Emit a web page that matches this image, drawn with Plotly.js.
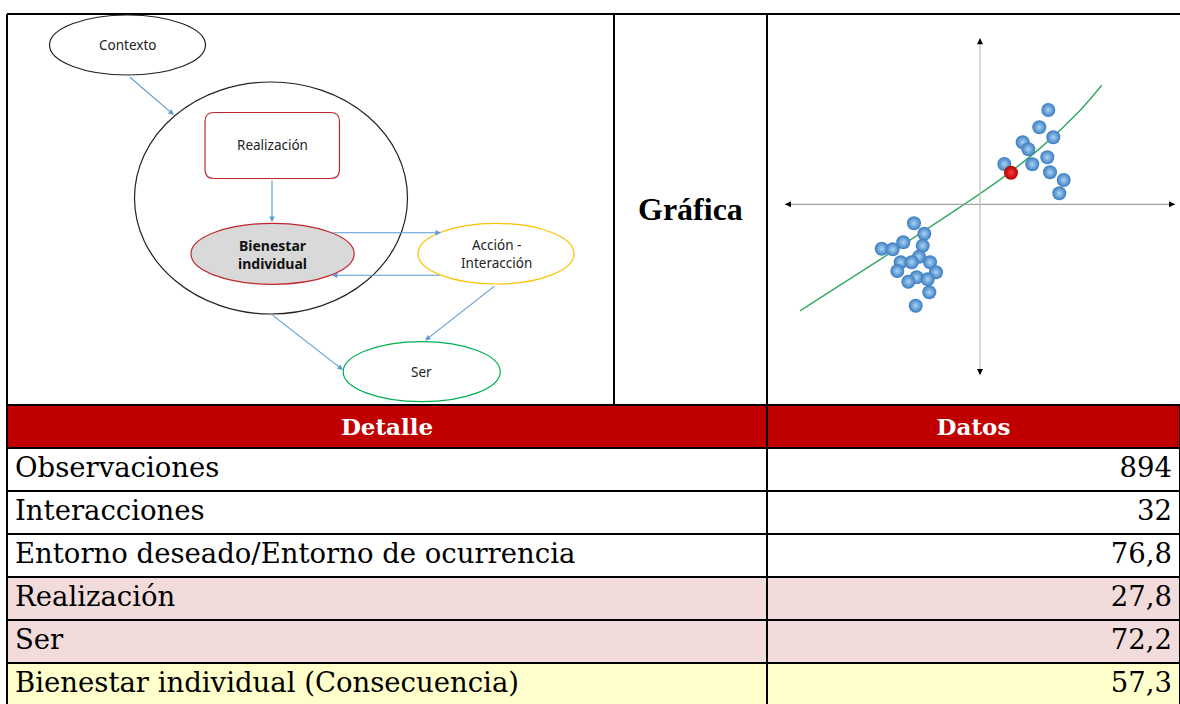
<!DOCTYPE html>
<html>
<head>
<meta charset="utf-8">
<script src="https://cdn.plot.ly/plotly-3.0.1.min.js"></script>
<style>html,body{margin:0;padding:0;background:#fff;}#chart{width:1180px;height:704px;}</style>
</head>
<body>
<div id="chart"></div>
<script>
// ---- data ----
var detalle = ["Observaciones", "Interacciones", "Entorno deseado/Entorno de ocurrencia", "Realización", "Ser", "Bienestar individual (Consecuencia)"];
var datos = ["894", "32", "76,8", "27,8", "72,2", "57,3"];
var headers = ["<b>Detalle</b>", "<b>Datos</b>"];

var clusterX = [6.83, 5.93, 7.33, 4.27, 4.83, 2.43, 5.23, 6.73, 7.0, 8.37, 7.93,
                -6.6, -5.57, -9.83, -8.73, -7.67, -5.73, -6.1, -7.93, -6.83, -5.0, -8.27, -4.4, -6.33, -7.17, -5.23, -5.07, -6.43];
var clusterY = [9.43, 7.7, 6.7, 6.2, 5.5, 4.03, 4.0, 4.7, 3.2, 2.43, 1.1,
                -1.9, -2.94, -4.44, -4.5, -3.8, -4.14, -5.24, -5.8, -5.8, -5.8, -6.67, -6.8, -7.3, -7.74, -7.5, -8.8, -10.14];
var focusX = [3.1];
var focusY = [3.16];
var trendX = [-18, -14, -10, -6, -2, 2, 6, 10, 12.17];
var trendY = [-10.65, -8.09, -5.53, -2.93, -0.29, 2.47, 5.59, 9.39, 11.9];

var nodeLabels = ["Contexto", "Realización", "<b>Bienestar<br>individual</b>", "Acción -<br>Interacción", "Ser"];
var sectionLabel = "<b>Gráfica</b>";

// ---- helpers (pixel -> paper) ----
var W = 1180, H = 704;
function PX(x){ return x / W; }
function PY(y){ return 1 - y / H; }

var shapes = [];
var annotations = [];

// frame of the upper row
var frame = {type:'line', xref:'paper', yref:'paper', line:{color:'#000', width:2}};
shapes.push(Object.assign({}, frame, {x0:PX(7), x1:1, y0:PY(14), y1:PY(14)}));
shapes.push(Object.assign({}, frame, {x0:PX(7), x1:PX(7), y0:PY(14), y1:PY(406)}));
shapes.push(Object.assign({}, frame, {x0:PX(614), x1:PX(614), y0:PY(14), y1:PY(406)}));
shapes.push(Object.assign({}, frame, {x0:PX(767), x1:PX(767), y0:PY(14), y1:PY(406)}));

// diagram nodes (pixel geometry)
function ellipse(cx, cy, rx, ry, color, fill){
  shapes.push({type:'circle', xref:'paper', yref:'paper', x0:PX(cx-rx), x1:PX(cx+rx), y0:PY(cy+ry), y1:PY(cy-ry),
    line:{color:color, width:1.2}, fillcolor:fill || 'rgba(0,0,0,0)', layer:'above'});
}
ellipse(271, 198, 136.5, 116, '#222', null);          // big circle
ellipse(127.5, 45, 78, 30, '#222', null);             // Contexto
ellipse(272.6, 253.8, 81.6, 30.5, '#c0272d', '#d9d9d9'); // Bienestar
ellipse(496, 253.7, 78, 30.3, '#ffc000', null);        // Acción
ellipse(421.7, 371.7, 78.5, 30, '#00b050', null);      // Ser

// rounded rectangle (Realización)
(function(){
  var x0=205, x1=339.5, y0=112.5, y1=178.5, r=9;
  function p(x,y){ return PX(x)+','+PY(y); }
  var d = 'M'+p(x0+r,y0)+' L'+p(x1-r,y0)+' Q'+p(x1,y0)+' '+p(x1,y0+r)+' L'+p(x1,y1-r)+' Q'+p(x1,y1)+' '+p(x1-r,y1)+
          ' L'+p(x0+r,y1)+' Q'+p(x0,y1)+' '+p(x0,y1-r)+' L'+p(x0,y0+r)+' Q'+p(x0,y0)+' '+p(x0+r,y0)+' Z';
  shapes.push({type:'path', xref:'paper', yref:'paper', path:d, line:{color:'#c0272d', width:1.2}, fillcolor:'#fff', layer:'above'});
})();

// diagram arrows: [tailX, tailY, headX, headY]
var arrows = [[128.5,76,174,115],[272,179,272,222],[331.4,232.7,441,232.7],[441,275.3,332,275.3],[271,314,343,370],[496,285,425,340.5]];
arrows.forEach(function(a){
  annotations.push({xref:'paper', yref:'paper', x:PX(a[2]), y:PY(a[3]), ax:a[0]-a[2], ay:a[1]-a[3], axref:'pixel', ayref:'pixel',
    text:'', showarrow:true, arrowhead:2, arrowsize:1, arrowwidth:1.1, arrowcolor:'#5b9bd5', standoff:0});
});

// node labels
var labelPos = [[127.5,45],[272,145],[272,254],[496,254],[421.7,372]];
var lf = {family:'Noto Sans, Open Sans, sans-serif', size:13.5, color:'#222'};
var labelFont = [lf, lf, {family:'Noto Sans, Open Sans, sans-serif', size:14, color:'#111'}, lf, lf];
nodeLabels.forEach(function(t,i){
  annotations.push({xref:'paper', yref:'paper', x:PX(labelPos[i][0]), y:PY(labelPos[i][1]), text:t, showarrow:false,
    xanchor:'center', yanchor:'middle', font:labelFont[i], align:'center'});
});

// "Gráfica"
annotations.push({xref:'paper', yref:'paper', x:PX(690.5), y:PY(209), text:sectionLabel, showarrow:false,
  xanchor:'center', yanchor:'middle', font:{family:'Liberation Serif, serif', size:32, color:'#000'}});

// scatter axes lines (in data units of the scatter)
shapes.push({type:'line', xref:'x', yref:'y', x0:-19.5, x1:19.5, y0:0, y1:0, line:{color:'#8c8c8c', width:1}});
shapes.push({type:'line', xref:'x', yref:'y', x0:0, x1:0, y0:-17.07, y1:16.6, line:{color:'#bdbdbd', width:1.2}});
[[19.5,0,-7,0],[-19.5,0,7,0],[0,16.6,0,7],[0,-17.07,0,-7]].forEach(function(a){
  annotations.push({xref:'x', yref:'y', x:a[0], y:a[1], ax:a[2], ay:a[3], axref:'pixel', ayref:'pixel', text:'',
    showarrow:true, arrowhead:2, arrowsize:1, arrowwidth:1.2, arrowcolor:'#000', standoff:0});
});

var traces = [
  {type:'scatter', mode:'lines', x:trendX, y:trendY, xaxis:'x', yaxis:'y', line:{color:'#33a863', width:1.4, shape:'spline', smoothing:1}, hoverinfo:'skip'},
  {type:'scatter', mode:'markers', x:clusterX, y:clusterY, xaxis:'x', yaxis:'y',
    marker:{size:14, color:'#3a7cc0', gradient:{type:'radial', color:'#a9d3f5'}, line:{width:0}}},
  {type:'scatter', mode:'markers', x:focusX, y:focusY, xaxis:'x', yaxis:'y',
    marker:{size:14, color:'#b00000', gradient:{type:'radial', color:'#ff3a3a'}, line:{width:0}}},
  {type:'table', domain:{x:[PX(7), 1], y:[0, PY(405)]},
    columnwidth:[760, 413],
    header:{values:headers, height:40, align:'center', line:{color:'#000', width:2}, fill:{color:'#c00000'},
      font:{family:'DejaVu Serif, serif', size:23, color:'#fff'}},
    cells:{values:[detalle, datos], height:43, align:['left','right'], line:{color:'#000', width:2},
      fill:{color:[['#fff','#fff','#fff','#f2dcdb','#f2dcdb','#ffffcc'],['#fff','#fff','#fff','#f2dcdb','#f2dcdb','#ffffcc']]},
      font:{family:'DejaVu Serif, serif', size:27.5, color:'#000'}}}
];

var layout = {
  width:W, height:H, margin:{l:0,r:0,t:0,b:0}, paper_bgcolor:'#fff', plot_bgcolor:'rgba(0,0,0,0)',
  showlegend:false,
  xaxis:{domain:[PX(770), 1], range:[-21, 20], visible:false, fixedrange:true},
  yaxis:{domain:[PY(400), PY(20)], range:[-19.57, 18.43], visible:false, fixedrange:true},
  shapes:shapes, annotations:annotations
};

Plotly.newPlot('chart', traces, layout, {displayModeBar:false, staticPlot:true});
</script>
</body>
</html>
